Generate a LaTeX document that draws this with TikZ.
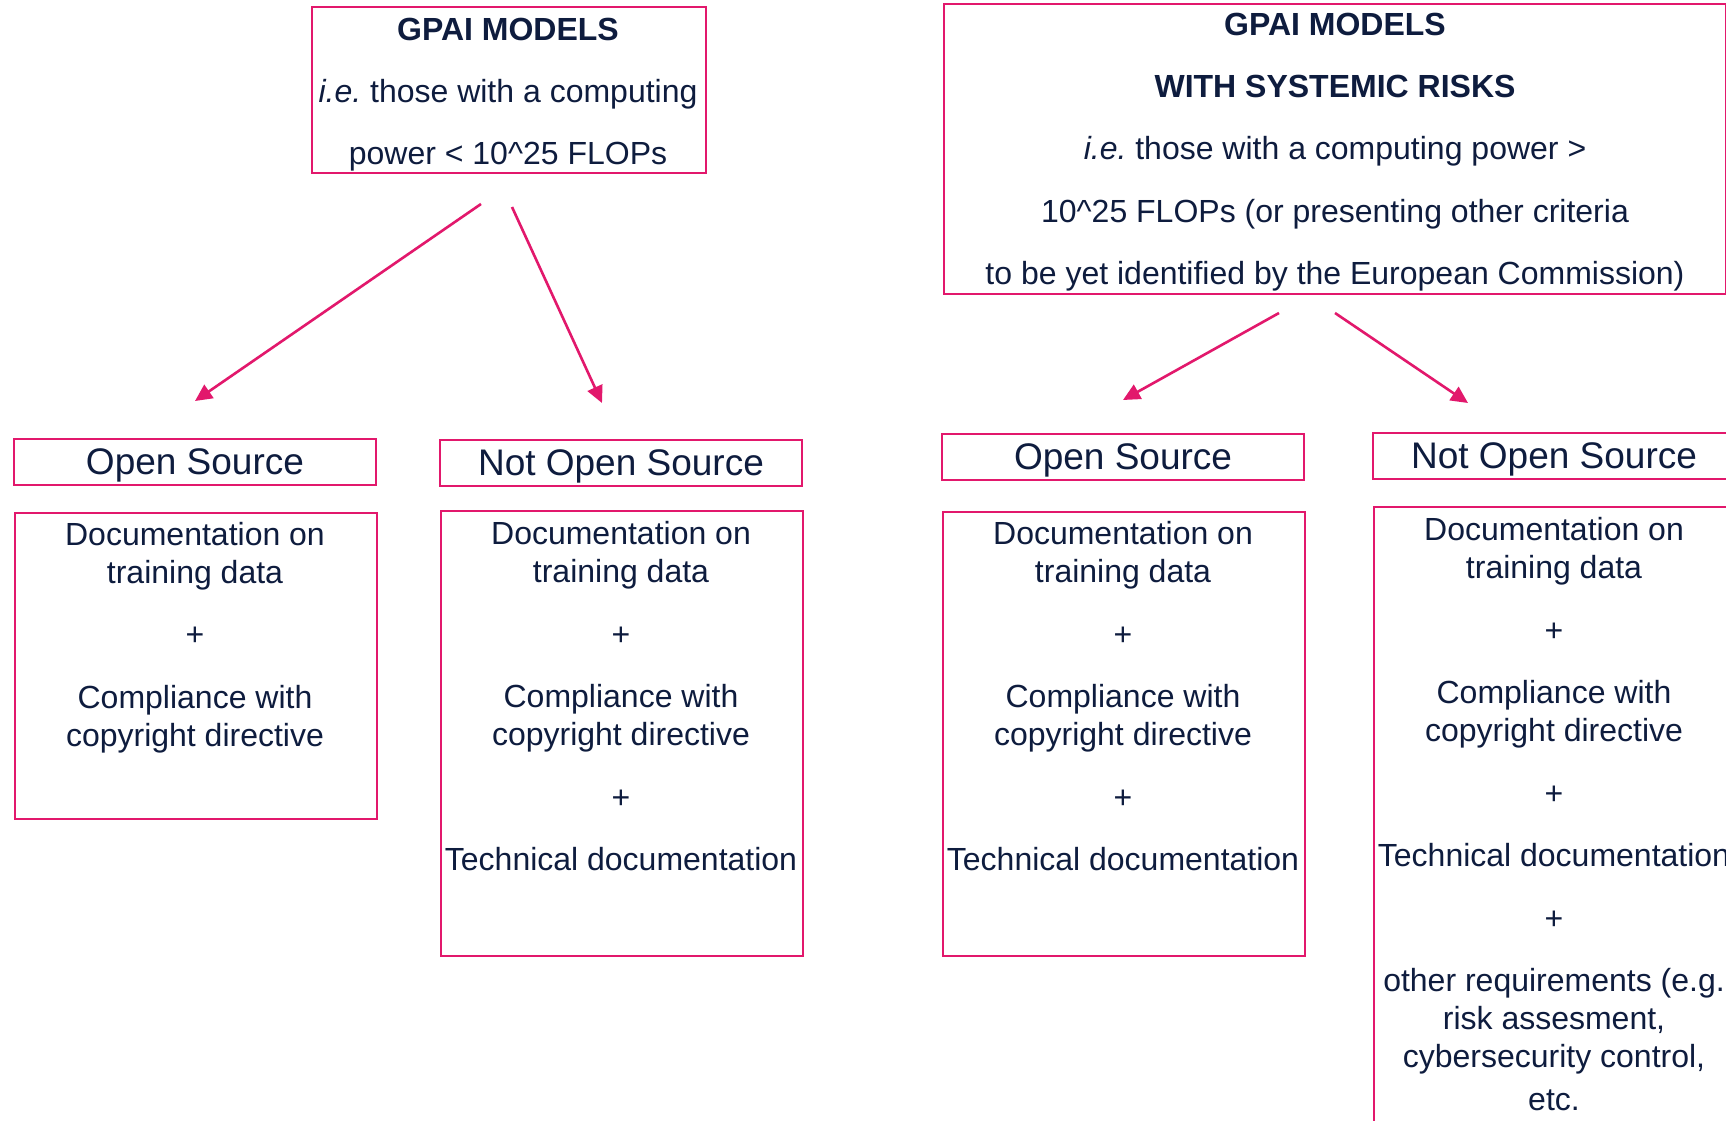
\documentclass[tikz,border=0pt]{standalone}
\usepackage{fontspec}
\setmainfont{Liberation Sans}
\frenchspacing
\usetikzlibrary{arrows.meta}
\definecolor{rose}{RGB}{226,24,108}
\definecolor{ink}{RGB}{14,28,62}
\begin{document}
\begin{tikzpicture}[x=1pt,y=-1pt,
  frame/.style={draw=rose, line width=2pt, inner sep=0pt, rectangle},
  hdrbox/.style={frame, minimum width=362pt, minimum height=46pt, text=ink,
    font=\fontsize{37}{44}\selectfont, text depth=0pt},
  reqbox/.style={frame, minimum width=362pt, anchor=north west},
  bodytext/.style={text=ink, align=center, inner sep=0pt, anchor=north,
    font=\fontsize{32}{38}\selectfont},
  toptext/.style={text=ink, align=center, inner sep=0pt, anchor=north,
    font=\fontsize{32}{62.2}\selectfont},
  link/.style={draw=rose, line width=2.6pt, -{Triangle[length=17pt,width=16pt]}}]

\useasboundingbox (0,0) rectangle (1726,1120);
\fill[white] (0,0) rectangle (1726,1120);
\clip (0,0) rectangle (1726,1120);

% ---- top: the two model categories ----
\node[frame, minimum width=394pt, minimum height=166pt, anchor=north west] (gpai) at (311,6) {};
\node[toptext] (gpaitext) at (508,17.5)
  {\textbf{GPAI MODELS}\\{\itshape i.e.} those with a computing\\power < 10\textasciicircum 25 FLOPs};

\node[frame, minimum width=782pt, minimum height=290pt, anchor=north west] (sys) at (943,3) {};
\node[toptext] (systext) at (1335,13)
  {\textbf{GPAI MODELS}\\\textbf{WITH SYSTEMIC RISKS}\\{\itshape i.e.} those with a computing power >\\
   10\textasciicircum 25 FLOPs (or presenting other criteria\\
   to be yet identified by the European Commission)};

% ---- headers ----
\node[hdrbox] (osA)  at (195,462)   {Open Source};
\node[hdrbox] (nosA) at (621,462.5) {Not Open Source};
\node[hdrbox] (osB)  at (1123,457)  {Open Source};
\node[hdrbox] (nosB) at (1554,456)  {Not Open Source};

% ---- obligations ----
\node[reqbox, minimum height=306pt] (reqA) at (14,512) {};
\node[bodytext] (reqAtext) at (195,522)
  {Documentation on\\training data\\[24.5pt]+\\[24.5pt]Compliance with\\copyright directive};

\node[reqbox, minimum height=445pt] (reqB) at (440,510) {};
\node[bodytext] (reqBtext) at (621,521.5)
  {Documentation on\\training data\\[24.5pt]+\\[24.5pt]Compliance with\\copyright directive\\[24.5pt]+\\[24.5pt]Technical documentation};

\node[reqbox, minimum height=444pt] (reqC) at (942,511) {};
\node[bodytext] (reqCtext) at (1123,521.5)
  {Documentation on\\training data\\[24.5pt]+\\[24.5pt]Compliance with\\copyright directive\\[24.5pt]+\\[24.5pt]Technical documentation};

\node[reqbox, minimum height=700pt] (reqD) at (1373,506) {};
\node[bodytext] (reqDtext) at (1554,517.5)
  {Documentation on\\training data\\[24.5pt]+\\[24.5pt]Compliance with\\copyright directive\\[24.5pt]+\\[24.5pt]Technical documentation\\[24.5pt]+\\[24.5pt]other requirements (e.g.\\risk assesment,\\cybersecurity control,\\[5pt]etc.};

% ---- arrows ----
\coordinate (gpaiL) at (481,204);
\coordinate (gpaiR) at (512,207);
\coordinate (osAin) at (195,401);
\coordinate (nosAin) at (602,403);
\coordinate (sysL) at (1279,313);
\coordinate (sysR) at (1335,313);
\coordinate (osBin) at (1123,400);
\coordinate (nosBin) at (1468,403);

\draw[link] (gpaiL) -- (osAin);
\draw[link] (gpaiR) -- (nosAin);
\draw[link] (sysL) -- (osBin);
\draw[link] (sysR) -- (nosBin);
\end{tikzpicture}
\end{document}
